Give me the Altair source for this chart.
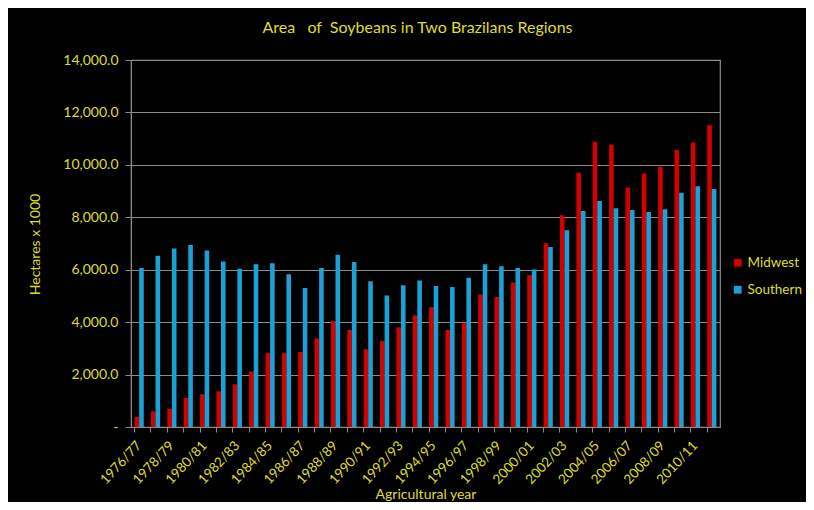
import altair as alt
import pandas as pd

years = ["1976/77","1977/78","1978/79","1979/80","1980/81","1981/82","1982/83","1983/84",
         "1984/85","1985/86","1986/87","1987/88","1988/89","1989/90","1990/91","1991/92",
         "1992/93","1993/94","1994/95","1995/96","1996/97","1997/98","1998/99","1999/00",
         "2000/01","2001/02","2002/03","2003/04","2004/05","2005/06","2006/07","2007/08",
         "2008/09","2009/10","2010/11","2011/12"]
midwest = [390, 600, 700, 1110, 1250, 1360, 1630, 2120, 2820, 2820, 2860, 3380, 4040, 3700,
           2960, 3280, 3800, 4260, 4570, 3700, 3980, 5050, 4960, 5510, 5790, 7010, 8080, 9700,
           10880, 10770, 9140, 9670, 9930, 10570, 10850, 11510]
southern = [6070, 6530, 6810, 6940, 6730, 6310, 6040, 6210, 6250, 5830, 5300, 6070, 6570, 6290,
            5560, 5020, 5410, 5590, 5380, 5340, 5690, 6210, 6130, 6070, 6010, 6870, 7510, 8240,
            8620, 8340, 8280, 8200, 8310, 8940, 9180, 9080]
regions = ["Midwest", "Southern"]
colors = ["#d40000", "#1ba1d6"]
shown_labels = years[::2]

rows = []
for i, y in enumerate(years):
    rows.append({"year": y, "region": "Midwest", "value": midwest[i]})
    rows.append({"year": y, "region": "Southern", "value": southern[i]})
df = pd.DataFrame(rows)

yellow = "#dede2c"
font = "Lato"
label_list = "[" + ",".join("'" + s + "'" for s in shown_labels) + "]"

chart = alt.Chart(df).mark_bar().encode(
    x=alt.X("year:N", sort=years,
            scale=alt.Scale(paddingInner=0.44, paddingOuter=0.22),
            axis=alt.Axis(title="Agricultural year", labelAngle=-47, labelAlign="right",
                          labelBaseline="middle", labelPadding=11,
                          labelExpr="indexof(" + label_list + ", datum.value) >= 0 ? datum.value : ''",
                          bandPosition=0, tickSize=5, tickColor="#8c8c8c",
                          domainColor="#8c8c8c", labelColor=yellow, titleColor=yellow,
                          labelFontSize=13.5, titleFontSize=14, titleFontWeight="normal",
                          labelFont=font, titleFont=font, titleY=74, titleBaseline="bottom",
                          labelOverlap=False)),
    xOffset=alt.XOffset("region:N", sort=regions),
    y=alt.Y("value:Q",
            scale=alt.Scale(domain=[0, 14000]),
            axis=alt.Axis(title="Hectares x 1000", values=list(range(0, 14001, 2000)),
                          labelExpr="datum.value == 0 ? '-' : format(datum.value, ',.1f')",
                          tickSize=6, tickColor="#8c8c8c", domainColor="#8c8c8c",
                          gridColor="#8c8c8c", gridWidth=1.2,
                          labelColor=yellow, titleColor=yellow, labelFontSize=14,
                          titleFontSize=14, titleFontWeight="normal", labelFont=font,
                          titleFont=font, labelPadding=7, titleX=-96, titleY=184,
                          titleBaseline="middle")),
    color=alt.Color("region:N", sort=regions,
                    scale=alt.Scale(domain=regions, range=colors),
                    legend=alt.Legend(title=None, symbolType="square", symbolSize=60,
                                      labelColor=yellow, labelFontSize=13.5, labelFont=font,
                                      orient="none", legendX=600, legendY=196,
                                      rowPadding=12, symbolStrokeWidth=0, labelOffset=3)),
).properties(
    width=589, height=367,
    title=alt.TitleParams("Area\u00a0\u00a0 of\u00a0 Soybeans in Two Brazilans Regions", color=yellow,
                          fontSize=16, fontWeight="normal", font=font, offset=17, dx=-8),
    background="black",
    padding={"left": 123, "top": 52, "right": 86, "bottom": 75},
    autosize=alt.AutoSizeParams(type="none"),
).configure_view(
    stroke="#8c8c8c", strokeWidth=1.2
)

chart.save("out.html", embed_options={"renderer": "svg", "actions": False})
